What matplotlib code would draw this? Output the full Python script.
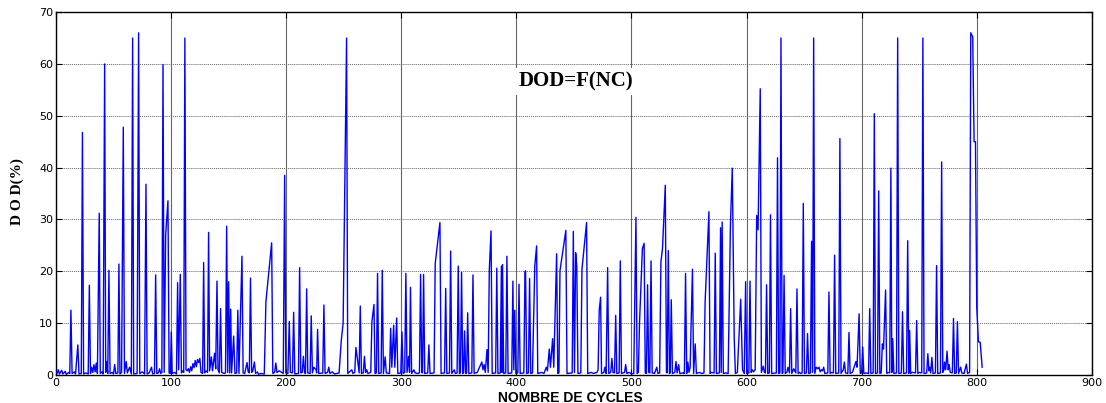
import matplotlib
matplotlib.use("Agg")
import matplotlib.pyplot as plt

# Polyline vertices (cycle number, DOD %)
cycles = [0, 1, 2, 3, 5, 6, 8, 9, 11, 12, 13, 14, 16, 17, 19, 20, 22, 23, 24, 26, 28, 29, 30, 31, 32, 33, 34, 35, 36,
          37.6, 38.5, 40, 41, 42.3, 43.2, 44, 45, 46, 47, 49, 50, 51, 52, 53.8, 54.7, 55.6, 57, 58.5, 59.5, 61, 62, 64,
          65.5, 66.6, 67.5, 70.5, 71.8, 72.8, 75, 77, 78.2, 79.2, 81, 83, 84, 85.6, 86.6, 87.6, 89, 90, 91, 92, 93, 94,
          95.3, 97.3, 98.3, 99.4, 100.2, 101, 103, 104.7, 105.7, 106.6, 108, 109, 110, 111, 112, 113, 114, 115, 116,
          117, 118, 119, 120, 121, 122, 123, 124, 125, 126, 127.4, 128.3, 129.2, 130.5, 131.7, 132.6, 133.5, 135, 136,
          137.8, 138.8, 139.9, 140.8, 142, 143, 144, 146, 147.3, 148.3, 149.2, 150, 151, 151.8, 152.6, 154.4, 155.5,
          157, 158, 159, 161.6, 162.6, 164, 166, 167, 168, 169, 170, 171, 172.4, 173.4, 175, 176, 178, 181, 182.4,
          187.4, 188.4, 190, 191, 192, 194, 197.5, 198.7, 199.7, 201.5, 202.7, 203.7, 205.5, 206.5, 207.5, 210.7,
          211.7, 212.7, 214, 215, 216, 216.8, 217.8, 218.8, 220.8, 221.8, 222.8, 224, 226, 226.5, 227.3, 228.3, 231.8,
          232.8, 233.8, 236, 237, 238, 240, 242, 246, 247.9, 249.5, 252.5, 253.5, 256, 257, 258, 259.6, 260.6, 262,
          263.4, 264.4, 265.4, 267, 268, 269, 270, 271, 273.5, 274.5, 276.3, 277.2, 278.4, 279.4, 280.4, 282.5, 283.5,
          284.5, 286, 287, 289.8, 290.8, 291.8, 293.4, 294.4, 296, 297, 299.6, 300.6, 301.6, 303, 304, 305, 306.4,
          307.2, 308, 309, 311, 312, 314, 315.8, 316.8, 317.8, 318.5, 319.4, 320.4, 323, 324, 325, 328.5, 329.5,
          333.6, 334.6, 337.6, 338.6, 339.6, 341.9, 342.9, 343.9, 346, 347, 348.5, 349.5, 350.5, 351.4, 352.4, 353.4,
          354.2, 355, 356, 356.8, 357.7, 358.7, 361.3, 362.3, 363.3, 366, 368, 370, 371, 372, 373, 374.5, 375.5,
          376.5, 378, 379, 382, 383, 384, 386, 387, 387.5, 388, 389, 390.8, 391.8, 392.8, 396, 397, 397.8, 398.6,
          399.6, 401.3, 402.3, 403.3, 406.5, 407.5, 408, 409, 410.5, 411.5, 412.5, 414, 416, 417.6, 418.6, 422, 424,
          426, 427, 428.6, 429.6, 431.5, 432.5, 435, 436, 437, 437.9, 443, 444, 448.5, 449.5, 450.5, 451.5, 452.5,
          453.5, 456, 457, 461, 462, 465, 467, 470, 471, 472, 473.2, 474, 476, 477, 478, 479.3, 480.3, 482, 483, 484,
          485.3, 486.3, 487.3, 489.3, 490.3, 491.3, 494, 495, 496, 498, 500, 502, 503.9, 504.9, 506, 507, 509.5, 511,
          512, 513, 514, 515, 516, 517, 518, 520, 522, 523, 524.5, 525.6, 527, 529.4, 530.4, 531, 532, 533, 533.7,
          534.6, 535.6, 537.7, 538.7, 539.7, 541, 542, 545, 546, 547, 548, 549, 550, 551, 551.7, 553, 554, 555.4,
          556.4, 559, 561, 563, 564, 567.3, 568.3, 569, 571.8, 572.8, 573.8, 576.4, 577.4, 578, 578.8, 579.8, 582,
          584, 586, 587.6, 589.3, 590.3, 592, 594.9, 596.5, 598, 599.2, 600.2, 602, 603, 604, 605, 606, 607.5, 608.8,
          610, 611.9, 612.9, 614.5, 615.5, 616.4, 617.4, 618.4, 619.8, 620.8, 621.8, 625.9, 626.9, 627.9, 629, 629.9,
          630.9, 631.6, 632.6, 633.6, 635, 636, 637.3, 638.3, 639.3, 641, 642.8, 643.8, 644.8, 646, 647, 648.3, 649.3,
          650.3, 652, 653, 654, 655.5, 656.5, 657.4, 658.3, 659.3, 660.5, 662, 663, 664, 665, 666, 667, 668, 670.6,
          671.6, 672.6, 674, 675.5, 676.5, 677.5, 680.1, 681.1, 682.1, 684, 685, 686, 688, 689, 690, 692, 695, 696,
          697.8, 698.8, 700, 700.9, 701.9, 704, 706, 707, 708, 710, 711, 712, 713.8, 714.8, 715.8, 717, 718, 719,
          720.8, 721.8, 723, 724.4, 725.4, 726.2, 727, 728, 730.3, 731.3, 732.3, 734.5, 735.5, 736.5, 739, 740, 741,
          741.7, 742.6, 744, 746.8, 747.8, 748.8, 750, 752.2, 753.2, 754.2, 756.5, 757.5, 758.5, 759, 760, 761, 762,
          764.1, 765.1, 766.1, 768.5, 769.5, 770.5, 771.5, 772, 773, 774.2, 775.2, 776, 777, 778.8, 779.8, 780.8,
          782.2, 783.2, 784.2, 786, 787, 789, 791, 792, 793.8, 794.8, 796.5, 797.7, 798.9, 800, 801.5, 803, 804.7]

dod = [0.8, 0.3, 1.0, 0.2, 0.9, 0.2, 0.7, 0.1, 0.5, 0.3, 12.5, 0.3, 0.6, 0.2, 5.8, 0.2, 0.3, 46.8, 0.2, 0.4, 0.2, 17.3,
       0.3, 1.5, 0.5, 2.0, 0.6, 2.3, 0.3, 31.2, 0.3, 0.6, 0.2, 60.0, 0.5, 2.6, 0.3, 20.2, 0.3, 0.5, 0.2, 2.0, 0.3,
       0.4, 21.4, 0.2, 0.5, 47.8, 0.3, 2.6, 0.4, 1.5, 0.2, 65.0, 0.2, 0.3, 66.0, 0.3, 0.6, 0.2, 36.8, 0.2, 0.4, 1.5,
       0.2, 0.3, 19.3, 0.3, 0.4, 1.2, 0.3, 0.5, 59.9, 0.5, 27.0, 33.6, 0.4, 0.3, 8.3, 0.3, 0.5, 0.2, 17.8, 1.0, 19.4,
       0.4, 0.8, 0.5, 65.0, 1.0, 0.8, 1.2, 0.5, 1.6, 0.8, 2.2, 1.4, 2.8, 1.6, 3.0, 2.4, 3.2, 0.5, 0.3, 21.7, 0.4, 0.8,
       0.5, 27.5, 0.8, 3.5, 0.8, 4.2, 1.2, 18.1, 1.0, 0.4, 12.8, 0.5, 0.3, 0.4, 28.7, 0.5, 18.0, 0.4, 12.7, 0.4, 7.5,
       0.3, 0.4, 12.5, 0.3, 22.9, 0.4, 0.3, 2.4, 0.6, 0.4, 18.7, 0.5, 0.8, 2.5, 0.3, 0.6, 0.1, 0.3, 0.2, 14.1, 25.5,
       0.3, 0.5, 2.3, 0.5, 0.8, 0.3, 38.5, 0.4, 0.3, 10.3, 0.5, 0.4, 12.1, 0.2, 0.3, 20.7, 0.4, 0.5, 3.6, 0.4, 0.3,
       16.6, 0.4, 0.3, 11.4, 0.4, 1.5, 1.0, 0.4, 8.8, 0.3, 0.4, 13.5, 0.3, 0.5, 1.5, 0.3, 0.6, 0.2, 0.4, 6.7, 10.0,
       65.0, 0.3, 0.8, 1.0, 0.3, 0.5, 5.3, 3.0, 0.4, 13.3, 0.3, 0.4, 3.6, 0.5, 1.0, 0.3, 0.5, 10.3, 13.6, 0.3, 0.4,
       19.6, 0.3, 0.4, 20.2, 0.3, 3.5, 0.4, 0.3, 9.0, 1.5, 9.6, 1.5, 11.0, 0.3, 0.4, 8.3, 0.3, 0.5, 19.6, 0.5, 3.6,
       0.5, 16.9, 0.3, 1.0, 0.4, 0.3, 0.4, 19.4, 0.5, 0.4, 19.4, 0.3, 0.4, 5.8, 0.3, 0.4, 21.5, 29.4, 0.3, 0.4, 16.7,
       0.3, 0.4, 23.9, 0.3, 1.0, 0.3, 0.4, 21.0, 0.3, 0.4, 19.8, 0.3, 0.4, 8.5, 0.3, 0.4, 12.0, 0.3, 0.4, 19.3, 0.3,
       0.5, 1.5, 2.5, 1.0, 2.0, 0.5, 4.9, 0.5, 20.3, 27.8, 0.3, 0.4, 20.6, 0.3, 0.4, 21.0, 0.5, 21.3, 0.3, 0.4, 22.9,
       0.3, 0.4, 18.1, 1.0, 12.5, 0.3, 0.4, 17.5, 0.3, 0.4, 19.9, 20.1, 0.3, 0.4, 18.6, 0.3, 0.4, 21.0, 24.9, 0.3,
       0.5, 0.3, 1.5, 0.8, 5.0, 1.5, 7.0, 1.5, 23.4, 0.3, 0.4, 20.1, 27.9, 0.3, 0.4, 27.7, 0.5, 23.6, 21.0, 0.3, 0.4,
       20.4, 29.4, 0.3, 0.5, 0.3, 0.5, 1.0, 12.5, 15.0, 0.3, 0.5, 1.5, 0.3, 20.7, 0.3, 0.5, 3.2, 0.5, 0.4, 11.5, 0.3,
       0.4, 22.0, 0.3, 0.5, 2.0, 0.3, 0.5, 0.2, 0.3, 30.4, 0.3, 0.5, 10.0, 24.4, 25.4, 0.4, 0.3, 17.4, 0.5, 0.4, 22.0,
       0.4, 0.3, 1.5, 0.3, 0.4, 21.8, 24.5, 36.6, 0.5, 0.4, 24.0, 0.3, 0.4, 14.5, 0.3, 0.5, 2.6, 0.4, 2.0, 0.3, 0.4,
       0.3, 19.6, 0.3, 2.5, 0.5, 1.5, 8.5, 20.4, 0.3, 6.0, 0.3, 0.5, 0.3, 0.4, 14.1, 31.5, 0.3, 0.5, 0.4, 23.5, 0.3,
       0.4, 28.4, 0.5, 29.5, 0.3, 0.4, 0.3, 29.0, 39.9, 7.0, 0.3, 0.5, 14.6, 1.0, 0.3, 18.0, 0.3, 0.4, 18.1, 0.5, 1.0,
       0.6, 1.0, 30.8, 28.0, 55.2, 0.5, 1.7, 0.5, 0.4, 17.4, 0.3, 0.4, 30.9, 0.3, 0.4, 41.9, 0.3, 0.4, 65.0, 0.3, 0.4,
       19.2, 0.3, 0.5, 1.5, 0.4, 12.8, 0.3, 1.2, 0.4, 16.6, 0.3, 0.5, 0.3, 0.4, 33.1, 0.3, 0.4, 8.0, 0.3, 0.4, 25.8,
       0.5, 65.0, 0.3, 1.5, 1.2, 1.5, 0.6, 1.0, 0.8, 1.5, 0.3, 0.4, 16.0, 0.3, 0.5, 0.4, 23.1, 0.3, 0.4, 45.6, 0.3,
       1.0, 2.5, 0.4, 0.3, 8.2, 0.3, 0.5, 2.6, 1.5, 11.8, 0.3, 0.4, 5.4, 0.3, 0.4, 0.3, 12.8, 0.3, 0.4, 50.4, 0.3, 0.4,
       35.5, 0.3, 0.4, 6.0, 5.0, 16.4, 0.3, 0.5, 0.4, 39.9, 0.5, 7.0, 0.3, 0.4, 65.0, 0.3, 0.4, 12.2, 0.3, 0.4, 25.9,
       0.3, 8.6, 0.3, 0.5, 0.4, 10.5, 0.3, 0.5, 0.4, 65.0, 0.3, 0.4, 4.1, 0.8, 1.5, 0.4, 3.4, 0.3, 0.4, 21.1, 0.3,
       0.4, 41.1, 0.5, 1.0, 2.5, 1.0, 4.6, 1.0, 2.0, 0.5, 0.4, 10.9, 0.3, 0.4, 10.3, 0.3, 1.5, 0.4, 0.3, 2.1, 0.3, 0.5,
       66.0, 65.2, 45.0, 45.0, 13.0, 6.4, 6.3, 1.5]

x_ticks = [0, 100, 200, 300, 400, 500, 600, 700, 800, 900]
y_ticks = [0, 10, 20, 30, 40, 50, 60, 70]

fig = plt.figure(figsize=(11.06, 4.03), dpi=100)
ax = fig.add_axes([0.0506, 0.0695, 0.9366, 0.9005])

ax.plot(cycles, dod, color="#0000ff", lw=1.0, zorder=3)

ax.set_xlim(0, 900)
ax.set_ylim(0, 70)
ax.set_xticks(x_ticks)
ax.set_yticks(y_ticks)
ax.tick_params(direction="in", length=4, width=0.8, top=True, right=True,
               labelsize=8, pad=2)
for lab in ax.get_xticklabels() + ax.get_yticklabels():
    lab.set_family("DejaVu Sans")

ax.xaxis.grid(True, color="#666666", lw=0.8, ls="-", zorder=1)
ax.yaxis.grid(True, color="#666666", lw=0.7, ls=(0, (1, 1)), zorder=1)
for s in ax.spines.values():
    s.set_linewidth(1.0)

ax.text(452, 56.6, "DOD=F(NC)", ha="center", va="center", fontsize=15,
        fontweight="bold", family="Liberation Serif", zorder=4,
        bbox=dict(facecolor="white", edgecolor="none", pad=2.5))

fig.text(0.016, 0.525, "D O D(%)", rotation=90, ha="center", va="center",
         fontsize=11, fontweight="bold", family="Liberation Serif")
fig.text(0.516, 0.012, "NOMBRE DE CYCLES", ha="center", va="center",
         fontsize=10, fontweight="bold", family="Liberation Sans")

fig.savefig("out.png", dpi=100)
